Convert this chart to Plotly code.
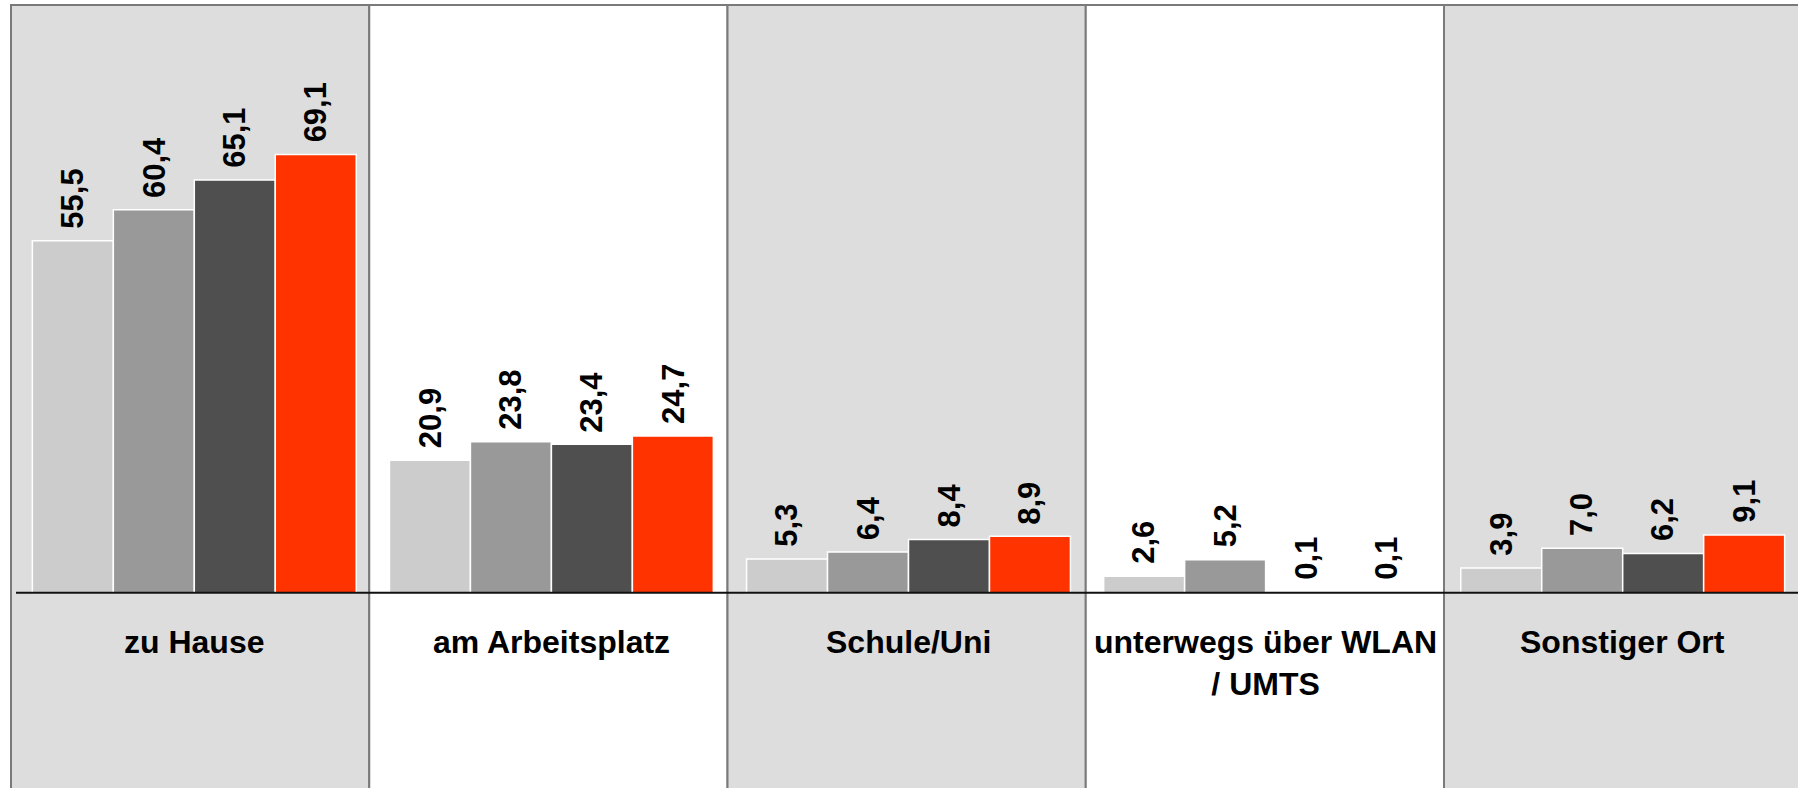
import plotly.graph_objects as go

categories = ["zu Hause", "am Arbeitsplatz", "Schule/Uni", "unterwegs über WLAN<br>/ UMTS", "Sonstiger Ort"]
series_names = ["Reihe 1", "Reihe 2", "Reihe 3", "Reihe 4"]
values_1 = [55.5, 20.9, 5.3, 2.6, 3.9]
values_2 = [60.4, 23.8, 6.4, 5.2, 7.0]
values_3 = [65.1, 23.4, 8.4, 0.1, 6.2]
values_4 = [69.1, 24.7, 8.9, 0.1, 9.1]
series_values = [values_1, values_2, values_3, values_4]
colors = ["#cccccc", "#999999", "#4f4f4f", "#ff3300"]
panel_fills = ["#dddddd", "#ffffff", "#dddddd", "#ffffff", "#dddddd"]

W, H = 1798, 788
px_per_cat = 357.1
cat0_px = 194.3
panel_left_px = 11
panel_w_px = 358.25
baseline_px = 592.7
px_per_unit = 6.34
top_px = 5
bargap = 0.093

xr = [-cat0_px / px_per_cat, (W - cat0_px) / px_per_cat]
yr = [-(H - baseline_px) / px_per_unit, baseline_px / px_per_unit]
y_top = (baseline_px - top_px) / px_per_unit


def px_to_x(p):
    return (p - cat0_px) / px_per_cat


FONT = "Liberation Sans, Arial, sans-serif"
xs = list(range(len(categories)))

fig = go.Figure()
for name, vals, col in zip(series_names, series_values, colors):
    fig.add_trace(go.Bar(
        x=xs, y=vals, name=name,
        marker=dict(color=col, line=dict(color="white", width=1.5)),
        hoverinfo="y+name",
    ))

shapes = []
for i, fc in enumerate(panel_fills):
    shapes.append(dict(type="rect", xref="x", yref="y",
                       x0=px_to_x(panel_left_px + i * panel_w_px),
                       x1=px_to_x(panel_left_px + (i + 1) * panel_w_px),
                       y0=yr[0] - 10, y1=y_top,
                       fillcolor=fc, line=dict(color="#7a7a7a", width=2),
                       layer="below"))
shapes.append(dict(type="line", xref="x", yref="y",
                   x0=px_to_x(16), x1=xr[1] + 1, y0=0, y1=0,
                   line=dict(color="#111111", width=2), layer="above"))

annotations = []
bw = (1 - bargap) / len(series_values)
for j, vals in enumerate(series_values):
    for i, v in enumerate(vals):
        annotations.append(dict(
            x=i + (j - (len(series_values) - 1) / 2) * bw, y=v,
            xref="x", yref="y", text=f"{v:.1f}".replace(".", ","),
            textangle=-90, showarrow=False, xanchor="center", yanchor="bottom",
            yshift=10,
            font=dict(family=FONT, size=31, color="black", weight="bold"),
        ))
for i, c in enumerate(categories):
    annotations.append(dict(
        x=i, y=-4.6, xref="x", yref="y", text=c, showarrow=False,
        xanchor="center", yanchor="top", align="center",
        font=dict(family=FONT, size=32, color="black", weight="bold"),
    ))

fig.update_layout(
    width=W, height=H,
    margin=dict(l=0, r=0, t=0, b=0, pad=0),
    barmode="group", bargap=bargap, bargroupgap=0,
    paper_bgcolor="white", plot_bgcolor="white",
    showlegend=False,
    xaxis=dict(range=xr, visible=False, fixedrange=True),
    yaxis=dict(range=yr, visible=False, fixedrange=True),
    shapes=shapes, annotations=annotations,
)

fig.write_html("out.html", config={"displayModeBar": False},
               post_script="document.body.style.margin='0';document.body.style.overflow='hidden';")
